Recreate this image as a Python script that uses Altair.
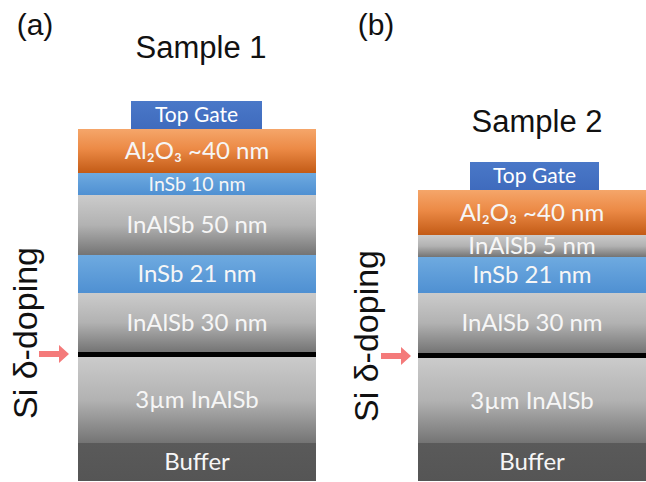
import altair as alt
import pandas as pd

# ---- Layer stacks (schematic depth units, top -> bottom) ----
a_labels = ["Top Gate", "Al₂O₃ ~40 nm", "InSb 10 nm", "InAlSb 50 nm", "InSb 21 nm",
            "InAlSb 30 nm", "", "3µm InAlSb", "Buffer"]
a_kinds = ["gate", "oxide", "insb", "inalsb", "insb", "inalsb", "dope", "inalsb", "buffer"]
a_top = [101, 129, 173, 195, 255, 293, 352, 357, 443]
a_bottom = [129, 173, 195, 255, 293, 352, 357, 443, 481]
a_left = [131, 78, 78, 78, 78, 78, 78, 78, 78]
a_right = [262, 316, 316, 316, 316, 316, 316, 316, 316]

b_labels = ["Top Gate", "Al₂O₃ ~40 nm", "InAlSb 5 nm", "InSb 21 nm",
            "InAlSb 30 nm", "", "3µm InAlSb", "Buffer"]
b_kinds = ["gate", "oxide", "inalsb", "insb", "inalsb", "dope", "inalsb", "buffer"]
b_top = [162, 190, 235, 257, 293, 353, 358, 443]
b_bottom = [190, 235, 257, 293, 353, 358, 443, 481]
b_left = [470, 418, 418, 418, 418, 418, 418, 418]
b_right = [599, 646, 646, 646, 646, 646, 646, 646]

panel_tags = ["(a)", "(b)"]
tag_x = [35, 376]
tag_y = [26, 26]
sample_titles = ["Sample 1", "Sample 2"]
sample_x = [201, 537]
sample_y = [49, 123]
doping_label = ["Si δ-doping", "Si δ-doping"]
doping_x = [37, 378]
doping_y = [333, 336]
arrow_x = [54, 396]
arrow_y = [354, 356]

rows = []
for lab, k, t, b, l, r in zip(a_labels, a_kinds, a_top, a_bottom, a_left, a_right):
    rows.append(dict(panel="a", label=lab, kind=k, y0=t, y1=b, x0=l, x1=r))
for lab, k, t, b, l, r in zip(b_labels, b_kinds, b_top, b_bottom, b_left, b_right):
    rows.append(dict(panel="b", label=lab, kind=k, y0=t, y1=b, x0=l, x1=r))
layers = pd.DataFrame(rows)

ann = pd.DataFrame(dict(tag=panel_tags, tx=tag_x, ty=tag_y, title=sample_titles,
                        sx=sample_x, sy=sample_y, dop=doping_label, dx=doping_x,
                        dy=doping_y, ax=arrow_x, ay=arrow_y))

xs = alt.Scale(domain=[0, 646], nice=False, zero=False)
ys = alt.Scale(domain=[0, 482], nice=False, zero=False, reverse=True)


def grad(stops):
    return alt.LinearGradient(
        gradient="linear",
        stops=[alt.GradientStop(offset=o, color=c) for o, c in stops],
        x1=0, x2=0, y1=0, y2=1,
    )


fills = {
    "gate": grad([(0, "#4a78c8"), (1, "#3f6bbd")]),
    "oxide": grad([(0, "#f5a66a"), (0.45, "#ec8a46"), (1, "#c35b16")]),
    "insb": grad([(0, "#6eaae0"), (1, "#4f90d2")]),
    "inalsb": grad([(0, "#cbcbcb"), (0.5, "#b2b2b2"), (1, "#747474")]),
    "buffer": grad([(0, "#5a5a5a"), (1, "#555555")]),
    "dope": "#000000",
}

base = alt.Chart(layers)
rect_layers = []
for kind, fill in fills.items():
    rect_layers.append(
        base.transform_filter(alt.datum.kind == kind)
        .mark_rect(fill=fill)
        .encode(
            x=alt.X("x0:Q", scale=xs, axis=None),
            x2="x1:Q",
            y=alt.Y("y0:Q", scale=ys, axis=None),
            y2="y1:Q",
        )
    )

txt_base = base.transform_filter(alt.datum.label != "").transform_calculate(
    xc="(datum.x0 + datum.x1) / 2", yc="(datum.y0 + datum.y1) / 2",
    thick="datum.y1 - datum.y0",
)
is_small = "(datum.panel == 'a' && datum.label == 'InSb 10 nm')"
big_text = txt_base.transform_filter(
    f"!{is_small} && datum.kind != 'gate'"
).mark_text(font="Lato", fontSize=24, color="#f6f6f6", baseline="middle", dy=1).encode(
    x=alt.X("xc:Q", scale=xs, axis=None), y=alt.Y("yc:Q", scale=ys, axis=None), text="label:N"
)
small_text = txt_base.transform_filter(is_small).mark_text(
    font="Lato", fontSize=19.5, color="#f6f6f6", baseline="middle", dy=1).encode(
    x=alt.X("xc:Q", scale=xs, axis=None), y=alt.Y("yc:Q", scale=ys, axis=None), text="label:N"
)
gate_text = txt_base.transform_filter(
    "datum.kind == 'gate'"
).mark_text(font="Lato", fontSize=21, color="#ffffff", baseline="middle", dy=1).encode(
    x=alt.X("xc:Q", scale=xs, axis=None), y=alt.Y("yc:Q", scale=ys, axis=None), text="label:N"
)

abase = alt.Chart(ann)
tags = abase.mark_text(font="Liberation Sans", fontSize=30, color="#111111",
                       baseline="middle").encode(
    x=alt.X("tx:Q", scale=xs, axis=None), y=alt.Y("ty:Q", scale=ys, axis=None), text="tag:N")
titles = abase.mark_text(font="Liberation Sans", fontSize=31, color="#111111",
                         baseline="middle").encode(
    x=alt.X("sx:Q", scale=xs, axis=None), y=alt.Y("sy:Q", scale=ys, axis=None), text="title:N")
doping = abase.mark_text(font="Liberation Sans", fontSize=34, color="#111111",
                         angle=270, baseline="alphabetic", align="center").encode(
    x=alt.X("dx:Q", scale=xs, axis=None), y=alt.Y("dy:Q", scale=ys, axis=None), text="dop:N")
arrow_path = ("M-0.833,-0.167L0.278,-0.167L0.278,-0.5L0.833,0L0.278,0.5"
              "L0.278,0.167L-0.833,0.167Z")
arrows = abase.mark_point(shape=arrow_path, size=1296, filled=True, color="#f47a7a",
                          opacity=1, strokeWidth=0).encode(
    x=alt.X("ax:Q", scale=xs, axis=None), y=alt.Y("ay:Q", scale=ys, axis=None))

chart = alt.layer(
    *rect_layers, big_text, small_text, gate_text, tags, titles, doping, arrows
).properties(
    width=646, height=482, autosize=alt.AutoSizeParams(type="none"), padding=0,
    background="white",
).configure_view(stroke=None)

chart.save("out.html", embed_options={"renderer": "svg", "actions": False})
